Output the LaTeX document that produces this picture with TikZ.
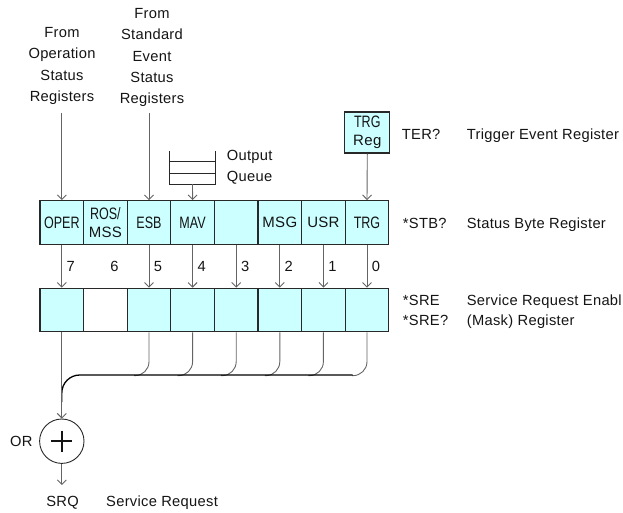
\documentclass[tikz,border=0pt]{standalone}
\usepackage{fontspec}
\setmainfont{Liberation Sans}[LetterSpace=2]
\newfontfamily\condfont{Liberation Sans}[FakeStretch=0.76]
\usetikzlibrary{arrows.meta,calc}
\definecolor{cellfill}{RGB}{204,255,255}
\definecolor{edge}{RGB}{40,40,40}
\definecolor{wire}{RGB}{100,100,100}
\definecolor{ink}{RGB}{20,20,20}
\newcommand{\cnd}[1]{{\condfont\fontsize{16.5}{18.3}\selectfont #1}}
\tikzset{
  cell/.style={draw=edge, line width=1.1pt, fill=cellfill, minimum width=43.6pt,
    minimum height=43.6pt, inner sep=0pt, align=center, text=ink,
    font=\fontsize{15}{18.3}\selectfont},
  lbl/.style={inner sep=0pt, text=ink, font=\fontsize{14.7}{21.3}\selectfont},
  arr/.style={draw=wire, line width=0.9pt, -{Straight Barb[length=4.5pt,width=9pt]}},
  wireline/.style={draw=wire, line width=0.9pt},
  busline/.style={draw=black, line width=1.3pt},
  queueline/.style={draw=edge, line width=0.9pt}
}
\begin{document}
\begin{tikzpicture}[x=1pt,y=-1pt]
\useasboundingbox (0,0) rectangle (623,513);

% top row (status byte)
\node[cell] (t7) at (61.8,222.4) {\cnd{OPER}};
\node[cell] (t6) at (105.4,222.4) {\cnd{ROS/}\\MSS};
\node[cell] (t5) at (149.0,222.4) {\cnd{ESB}};
\node[cell] (t4) at (192.6,222.4) {\cnd{MAV}};
\node[cell] (t3) at (236.2,222.4) {};
\node[cell] (t2) at (279.8,222.4) {MSG};
\node[cell] (t1) at (323.4,222.4) {USR};
\node[cell] (t0) at (367.0,222.4) {\cnd{TRG}};

% bottom row (enable register)
\node[cell] (b7) at (61.8,310) {};
\node[cell, fill=white] (b6) at (105.4,310) {};
\node[cell] (b5) at (149.0,310) {};
\node[cell] (b4) at (192.6,310) {};
\node[cell] (b3) at (236.2,310) {};
\node[cell] (b2) at (279.8,310) {};
\node[cell] (b1) at (323.4,310) {};
\node[cell] (b0) at (367.0,310) {};

% bit arrows and numbers
\foreach \b in {7,5,4,3,2,1,0}{
  \draw[arr] (t\b.south) -- (b\b.north);
}
\foreach \b in {7,6,5,4,3,2,1,0}{
  \node[lbl] at ($(t\b.south)!0.5!(b\b.north)+(9,0)$) {\b};
}

% inputs from above
\node[lbl, align=center] (fromop) at (62,66) {From\\Operation\\Status\\Registers};
\node[lbl, align=center] (fromse) at (152,57.5) {From\\Standard\\Event\\Status\\Registers};
\coordinate (opsrc) at (61.8,113);
\coordinate (esbsrc) at (149.0,113);
\draw[arr] (opsrc) -- (t7.north);
\draw[arr] (esbsrc) -- (t5.north);

% output queue
\node[minimum width=45pt, minimum height=33pt, inner sep=0pt] (oq) at (192.5,167.5) {};
\draw[queueline] (oq.north west) -- (oq.south west) -- (oq.south east) -- (oq.north east);
\draw[queueline] ($(oq.north west)!1/3!(oq.south west)$) -- ($(oq.north east)!1/3!(oq.south east)$);
\draw[queueline] ($(oq.north west)!2/3!(oq.south west)$) -- ($(oq.north east)!2/3!(oq.south east)$);
\draw[arr] (oq.south) -- (t4.north);
\node[lbl, align=left, anchor=west] (oqlbl) at (226.7,167.5) {Output\\Queue};

% trigger event register
\node[cell, minimum width=45pt, minimum height=41pt] (trgreg) at (367.3,132.5) {\cnd{TRG}\\Reg};
\draw[arr] (trgreg.south) -- (t0.north);

% right-hand labels
\node[lbl, anchor=base west] (ter) at (401.7,139.4) {TER?};
\node[lbl, anchor=base west] (terd) at (466.7,139.4) {Trigger Event Register};
\node[lbl, anchor=base west] (stb) at (402.7,228.4) {*STB?};
\node[lbl, anchor=base west] (stbd) at (466.7,228.4) {Status Byte Register};
\node[lbl, anchor=base west] (sre) at (402.7,305.0) {*SRE};
\node[lbl, anchor=base west] (sreq) at (402.7,325.8) {*SRE?};
\node[lbl, anchor=base west] (sred) at (466.7,305.0) {Service Request Enabl};
\node[lbl, anchor=base west] (sred2) at (466.7,325.8) {(Mask) Register};

% summing bus
\foreach \b in {5,4,3,2,1,0}{
  \draw[wireline, rounded corners=14pt] (b\b.south) |- ++(-15,43.3);
}
\coordinate (busR) at (352.5,375);
\coordinate (busL) at (61.8,375);
\coordinate (busend) at (61.8,402);
\draw[busline, rounded corners=18pt] (busR) -- (busL) -- (busend);

% OR gate
\node[circle, draw=edge, line width=0.9pt, minimum size=44.4pt, inner sep=0pt] (orgate) at (61.8,441.2) {};
\draw[line width=2.3pt, draw=ink] ($(orgate.center)+(-10.5,0)$) -- ($(orgate.center)+(10.5,0)$);
\draw[line width=2.3pt, draw=ink] ($(orgate.center)+(0,-10.5)$) -- ($(orgate.center)+(0,10.5)$);
\draw[arr] (b7.south) -- (orgate.north);
\coordinate (srqend) at (61.8,485);
\draw[arr] (orgate.south) -- (srqend);
\node[lbl] (orlbl) at (21.3,441.7) {OR};
\node[lbl, anchor=base] (srq) at (62.5,506.2) {SRQ};
\node[lbl, anchor=base west] (srqd) at (106,506.2) {Service Request};
\end{tikzpicture}
\end{document}
